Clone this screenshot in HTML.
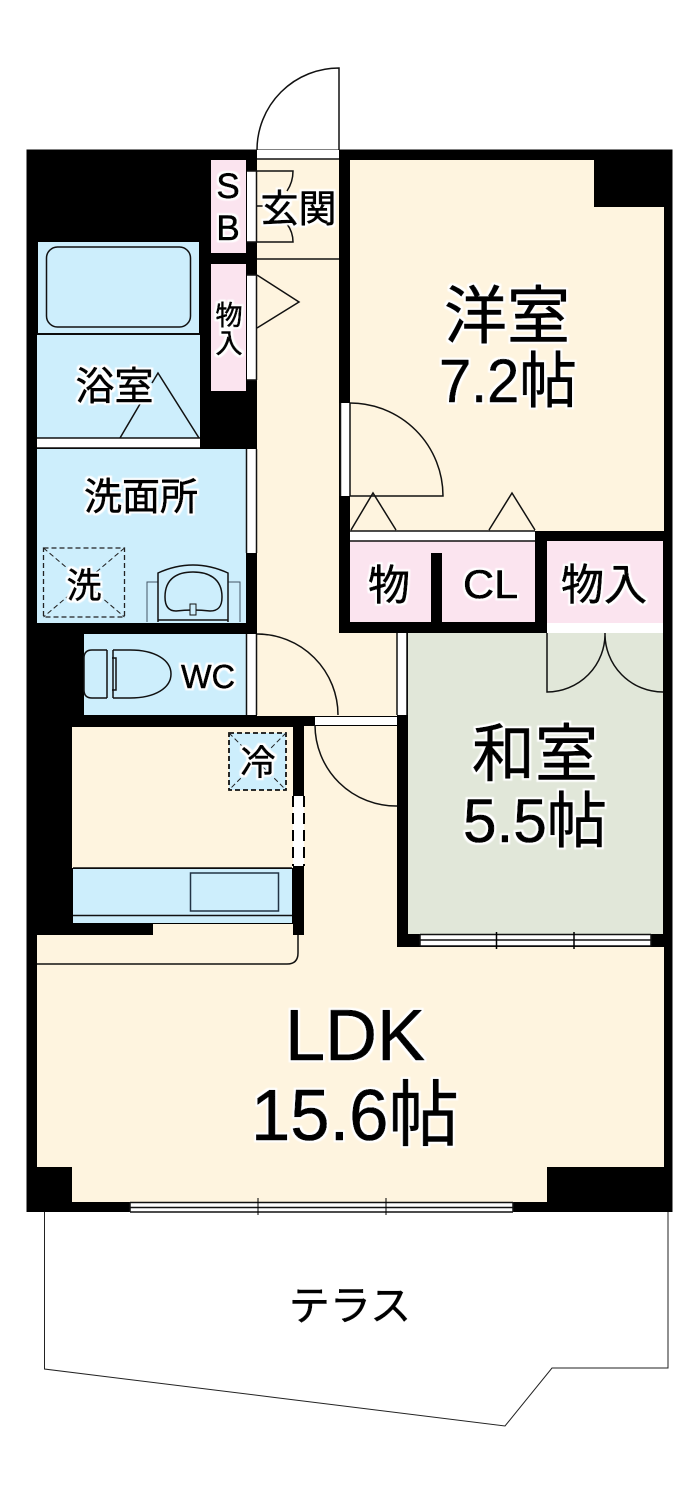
<!DOCTYPE html>
<html><head><meta charset="utf-8">
<style>
html,body{margin:0;padding:0;background:#fff}
svg{display:block}
text{font-family:"Liberation Sans","Noto Sans CJK JP",sans-serif;fill:#000;text-anchor:middle;stroke:#000;stroke-width:.7px;stroke-linejoin:round}
.l{fill:none;stroke:#111;stroke-width:1.5}
.t{fill:none;stroke:#222;stroke-width:1}
</style></head><body>
<svg width="700" height="1495" viewBox="0 0 700 1495" xmlns="http://www.w3.org/2000/svg">
<defs>
<filter id="h" x="-10%" y="-10%" width="120%" height="120%">
<feMorphology in="SourceAlpha" operator="dilate" radius="2" result="d"/>
<feGaussianBlur in="d" stdDeviation=".5" result="b"/>
<feFlood flood-color="#fff"/>
<feComposite in2="b" operator="in" result="w"/>
<feMerge><feMergeNode in="w"/><feMergeNode in="SourceGraphic"/></feMerge>
</filter>
</defs>
<rect width="700" height="1495" fill="#fff"/>
<!-- terrace -->
<path d="M44.5 1212V1369L505 1426L552 1368H668V1212" class="t"/>
<!-- walls -->
<rect x="26.5" y="149.5" width="646" height="1062.5" fill="#000"/>
<!-- cream rooms -->
<path d="M350 160H594V207H664V531H350Z" fill="#fef4df"/>
<path d="M257 159H339V633H397V716H257Z" fill="#fef4df"/>
<path d="M304 726H397V947H664V1167H547V1202H72V1167H37V935H153V924H293V935H304Z" fill="#fef4df"/>
<rect x="72" y="727" width="221" height="141" fill="#fef4df"/>
<!-- green -->
<rect x="408" y="633" width="255" height="301" fill="#e1e7d9"/>
<!-- blue -->
<rect x="38" y="242" width="161" height="91" fill="#cdeefc"/>
<rect x="37" y="335" width="163" height="103" fill="#cdeefc"/>
<rect x="37" y="449" width="209" height="174" fill="#cdeefc"/>
<rect x="84" y="634" width="162" height="81" fill="#cdeefc"/>
<rect x="73" y="869" width="219" height="54" fill="#cdeefc"/>
<!-- pink -->
<rect x="211" y="160" width="35" height="93" fill="#fbe4ef"/>
<rect x="211" y="264" width="35" height="127" fill="#fbe4ef"/>
<rect x="350" y="541" width="185" height="81" fill="#fbe4ef"/>
<rect x="431" y="553" width="11" height="70" fill="#000"/>
<rect x="547" y="541" width="116" height="82" fill="#fbe4ef"/>
<!-- white openings -->
<g fill="#fff">
<rect x="257" y="150" width="82" height="9"/>
<rect x="247" y="171" width="9" height="71"/>
<rect x="247" y="275" width="9" height="105"/>
<rect x="37" y="438" width="163" height="10"/>
<rect x="247" y="449" width="9" height="104"/>
<rect x="247" y="634" width="9" height="81"/>
<rect x="341" y="403" width="9" height="93"/>
<rect x="350" y="531" width="185" height="10"/>
<rect x="547" y="623" width="116" height="10"/>
<rect x="397.500" y="633" width="9" height="82"/>
<rect x="315" y="717" width="82" height="8"/>
<rect x="293" y="796" width="11" height="70"/>
<rect x="420" y="934" width="231" height="12"/>
<rect x="130" y="1202" width="383" height="10"/>
</g>
<path class="l" d="M256.500 171V242M256.500 275V380M256.500 449V553M256.500 634V715M246.500 634V715M246.500 449V553M397 633V715M407 633V715M340.500 403V496M350 403V496"/>
<!-- entry door -->
<path class="l" d="M257 150A82 82 0 0 1 339 68V150M257 159H339M257 259H339"/>
<!-- SB door -->
<path class="l" d="M257 171H293Q293 182 287 191M257 242H293Q293 232 287 224M257 206H263"/>
<path class="l" d="M247 171H257M247 242H257M247 275H257M247 380H257"/>
<!-- closet triangle -->
<path class="l" d="M257 275L299 302L257 328"/>
<!-- tub -->
<rect x="46.5" y="247" width="144" height="80" rx="11" class="l"/>
<path class="l" d="M37 334H200M37 438H200M37 448H200"/>
<path class="l" d="M120 438L140 404M152 383L158 373L199 438"/>
<!-- western room door -->
<path class="l" d="M350 403A93 93 0 0 1 443 496H350"/>
<path class="l" d="M351 530L373 493L396 530M489 530L512 493L535 530M350 531H535M350 541H535"/>
<!-- twin doors -->
<path class="l" d="M547 633V692A58 58 0 0 0 605 633A58 58 0 0 0 663 692"/>
<!-- WC door -->
<path class="l" d="M257 634A81 81 0 0 1 338 715"/>
<!-- LDK door -->
<path class="l" d="M315 725A81 81 0 0 0 397 806"/>
<!-- toilet -->
<path class="l" d="M107 650H92Q84 650 84 658V690Q84 698 92 698H107M107 650V698M113 650V698M113 650H130C155 650 171 660 171 674C171 688 155 698 130 698H113M112 658H116V690H112"/>
<!-- washer -->
<rect x="43.5" y="548" width="81" height="69" fill="none" stroke="#222" stroke-width="1.3" stroke-dasharray="5 3"/>
<path d="M43.5 548L124.5 617M124.5 548L43.5 617" fill="none" stroke="#222" stroke-width="1" stroke-dasharray="5 3"/>
<!-- vanity -->
<path d="M158 622V582H147V622M228 622V582H240V622" fill="none" stroke="#456" stroke-width="1"/>
<path class="l" d="M158 622V573Q193 557 228 573V622M158 620H228"/>
<path class="l" d="M165 597C165 578 178 572 193 572C208 572 222 578 222 597C222 607 218 611 210 611Q193 609 176 611C169 611 165 607 165 597Z"/>
<rect x="190" y="604" width="6" height="11" fill="#cdeefc" stroke="#111" stroke-width="1"/>
<!-- fridge -->
<rect x="229" y="733" width="57" height="57" fill="#cdeefc" stroke="#111" stroke-width="1.8" stroke-dasharray="5 3"/>
<path d="M229 733L286 790M286 733L229 790" fill="none" stroke="#222" stroke-width="1" stroke-dasharray="5 3"/>
<!-- kitchen -->
<path class="l" d="M73 868H292M73 915.5H292"/>
<rect x="190.5" y="873" width="88" height="38" fill="#cdeefc" stroke="#234" stroke-width="1.5"/>
<path d="M293 796V866M304 796V866" fill="none" stroke="#000" stroke-width="2" stroke-dasharray="11 6"/>
<path class="l" d="M298 935V953Q298 964 287 964H37"/>
<!-- Japanese room window -->
<path class="l" d="M420 934.5H651M420 940H651M420 946H651M420 934V946M651 934V946" stroke-width="1.3"/>
<path d="M496.5 932V949M574 932V949" stroke="#000" stroke-width="1.5"/>
<!-- LDK window -->
<path class="l" d="M130 1202.5H513M130 1207.5H513M130 1212H513M130 1202V1212M513 1202V1212"/>
<path d="M258 1198V1215M386 1198V1215" stroke="#000" stroke-width="1"/>
<!-- labels -->
<g filter="url(#h)">
<text x="507" y="338" font-size="63">洋室</text>
<text x="508" y="402" font-size="61" textLength="138" lengthAdjust="spacingAndGlyphs">7.2帖</text>
<text x="535" y="776" font-size="63">和室</text>
<text x="535" y="842" font-size="61" textLength="144" lengthAdjust="spacingAndGlyphs">5.5帖</text>
<text x="355" y="1060" font-size="72">LDK</text>
<text x="355" y="1140" font-size="72" textLength="208" lengthAdjust="spacingAndGlyphs">15.6帖</text>
<text x="350" y="1320" font-size="41">テラス</text>
<text x="228" y="198" font-size="35">S</text>
<text x="228" y="240" font-size="35">B</text>
<text x="298.500" y="222" font-size="38">玄関</text>
<text x="229" y="325" font-size="27">物</text>
<text x="229" y="353" font-size="27">入</text>
<text x="114.500" y="400" font-size="39">浴室</text>
<text x="141" y="510" font-size="38">洗面所</text>
<text x="84" y="598" font-size="35">洗</text>
<text x="208" y="688" font-size="33" textLength="54" lengthAdjust="spacingAndGlyphs">WC</text>
<text x="258" y="775" font-size="35">冷</text>
<text x="389" y="600" font-size="42">物</text>
<text x="490.500" y="598" font-size="40" textLength="55" lengthAdjust="spacingAndGlyphs">CL</text>
<text x="604" y="600" font-size="43">物入</text>
</g>
</svg>
</body></html>
